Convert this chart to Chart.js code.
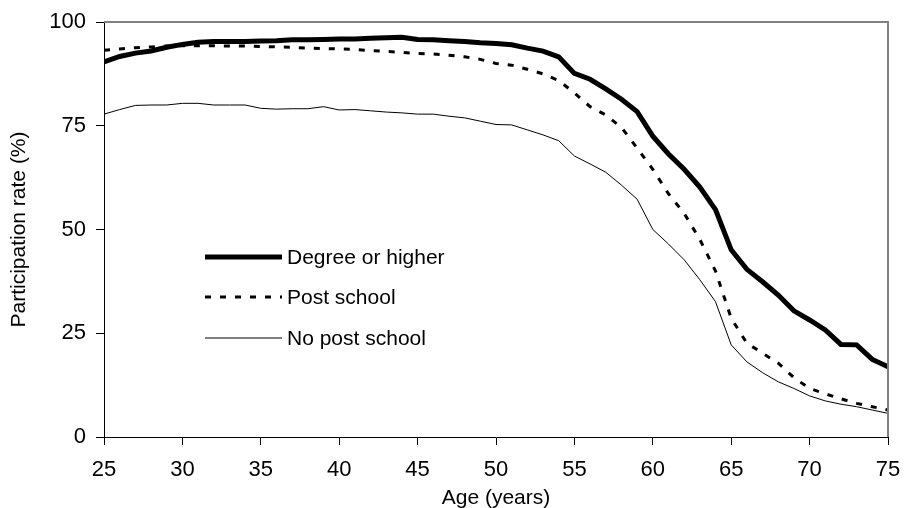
<!DOCTYPE html>
<html>
<head>
<meta charset="utf-8">
<script src="https://cdn.jsdelivr.net/npm/chart.js@4"></script>
<style>
  html, body { margin: 0; padding: 0; background: #fff; }
  #wrap { width: 904px; height: 508px; }
</style>
</head>
<body>
<div id="wrap"><canvas id="participationChart"></canvas></div>
<script>
const ages = [25, 26, 27, 28, 29, 30, 31, 32, 33, 34, 35, 36, 37, 38, 39, 40, 41, 42, 43, 44, 45, 46, 47, 48, 49,
    50, 51, 52, 53, 54, 55, 56, 57, 58, 59, 60, 61, 62, 63, 64, 65, 66, 67, 68, 69, 70, 71, 72, 73, 74, 75];

const degreeOrHigher = [90.4, 91.7, 92.5, 93.0, 93.9, 94.6, 95.1, 95.3, 95.3, 95.3, 95.4, 95.5, 95.7, 95.7, 95.8, 95.9, 95.9, 96.1, 96.2, 96.3, 95.8, 95.7, 95.5, 95.3, 95.0,
    94.8, 94.5, 93.7, 93.0, 91.6, 87.6, 86.2, 83.9, 81.4, 78.4, 72.5, 68.2, 64.5, 60.2, 54.8, 45.1, 40.4, 37.4, 34.2, 30.4, 28.2, 25.8, 22.3, 22.2, 18.7, 16.9];

const postSchool = [93.2, 93.5, 93.8, 94.0, 94.2, 94.3, 94.3, 94.3, 94.2, 94.2, 94.1, 94.0, 93.9, 93.7, 93.6, 93.5, 93.4, 93.1, 92.9, 92.7, 92.4, 92.3, 92.0, 91.6, 91.0,
    90.0, 89.6, 88.6, 87.5, 85.9, 82.9, 79.6, 77.6, 74.6, 69.6, 64.5, 58.6, 53.9, 47.6, 40.0, 28.6, 22.6, 20.2, 17.8, 14.3, 11.7, 10.4, 9.2, 8.1, 7.3, 6.5];

const noPostSchool = [77.8, 78.9, 79.9, 80.0, 80.0, 80.4, 80.4, 80.0, 80.0, 80.0, 79.2, 79.0, 79.1, 79.1, 79.6, 78.8, 78.9, 78.6, 78.3, 78.1, 77.8, 77.8, 77.3, 76.9, 76.1,
    75.3, 75.2, 74.0, 72.8, 71.4, 67.7, 65.8, 63.8, 60.7, 57.3, 50.0, 46.5, 42.7, 37.9, 32.6, 22.2, 18.1, 15.5, 13.3, 11.7, 9.9, 8.7, 7.9, 7.3, 6.5, 5.7];

const seriesNames = ['Degree or higher', 'Post school', 'No post school'];
const yTicks = [0, 25, 50, 75, 100];

const FONT = 'Liberation Sans, Arial, sans-serif';

function toPoints(values) {
    return ages.map((a, i) => ({ x: a, y: values[i] }));
}

// legend drawn inside the plot, plus grey top/right frame
const insideLegend = {
    id: 'insideLegend',
    afterDraw(chart) {
        const ctx = chart.ctx;
        const area = chart.chartArea;
        ctx.save();
        ctx.strokeStyle = '#808080';
        ctx.lineWidth = 2;
        ctx.beginPath();
        ctx.moveTo(area.left, area.top);
        ctx.lineTo(area.right, area.top);
        ctx.lineTo(area.right, area.bottom);
        ctx.stroke();

        const x0 = area.left + 101;
        const x1 = area.left + 178;
        const rows = [257, 297, 338];
        chart.data.datasets.forEach((ds, i) => {
            ctx.strokeStyle = '#000';
            ctx.lineWidth = ds.borderWidth;
            ctx.setLineDash(ds.borderDash || []);
            ctx.beginPath();
            ctx.moveTo(x0, rows[i]);
            ctx.lineTo(x1, rows[i]);
            ctx.stroke();
            ctx.setLineDash([]);
            ctx.fillStyle = '#000';
            ctx.font = '21px ' + FONT;
            ctx.textBaseline = 'middle';
            ctx.textAlign = 'left';
            ctx.fillText(ds.label, x1 + 5, rows[i] + 1);
        });
        ctx.restore();
    }
};

new Chart(document.getElementById('participationChart'), {
    type: 'line',
    data: {
        datasets: [
            {
                label: seriesNames[0],
                data: toPoints(degreeOrHigher),
                borderColor: '#000',
                borderWidth: 5,
                pointRadius: 0,
                tension: 0
            },
            {
                label: seriesNames[1],
                data: toPoints(postSchool),
                borderColor: '#000',
                borderWidth: 3,
                borderDash: [6, 9],
                pointRadius: 0,
                tension: 0
            },
            {
                label: seriesNames[2],
                data: toPoints(noPostSchool),
                borderColor: '#000',
                borderWidth: 1,
                pointRadius: 0,
                tension: 0
            }
        ]
    },
    options: {
        responsive: true,
        maintainAspectRatio: false,
        animation: false,
        layout: {
            padding: { left: 0, right: 16, top: 22, bottom: 0 }
        },
        plugins: {
            legend: { display: false },
            tooltip: { enabled: false }
        },
        scales: {
            x: {
                type: 'linear',
                min: 25,
                max: 75,
                border: { display: true, color: '#000', width: 1 },
                grid: { drawOnChartArea: false, drawTicks: true, tickLength: 8, color: '#000' },
                ticks: {
                    stepSize: 5,
                    color: '#000',
                    padding: 12,
                    maxRotation: 0,
                    font: { family: FONT, size: 22 }
                },
                title: {
                    display: true,
                    text: 'Age (years)',
                    color: '#000',
                    padding: { top: 0, bottom: -3 },
                    font: { family: FONT, size: 21 }
                },
                afterFit(scale) {
                    scale.height = 71;
                    scale.paddingRight = 0;
                    scale.paddingLeft = 0;
                }
            },
            y: {
                min: 0,
                max: 100,
                border: { display: true, color: '#000', width: 1 },
                grid: { drawOnChartArea: false, drawTicks: true, tickLength: 8, color: '#000' },
                afterBuildTicks(scale) {
                    scale.ticks = yTicks.map(v => ({ value: v }));
                },
                ticks: {
                    color: '#000',
                    padding: 10,
                    font: { family: FONT, size: 22 }
                },
                title: {
                    display: true,
                    text: 'Participation rate (%)',
                    color: '#000',
                    padding: { top: 7, bottom: 0 },
                    font: { family: FONT, size: 21 }
                },
                afterFit(scale) {
                    scale.width = 104;
                    scale.paddingTop = 0;
                    scale.paddingBottom = 0;
                }
            }
        }
    },
    plugins: [insideLegend]
});
</script>
</body>
</html>
